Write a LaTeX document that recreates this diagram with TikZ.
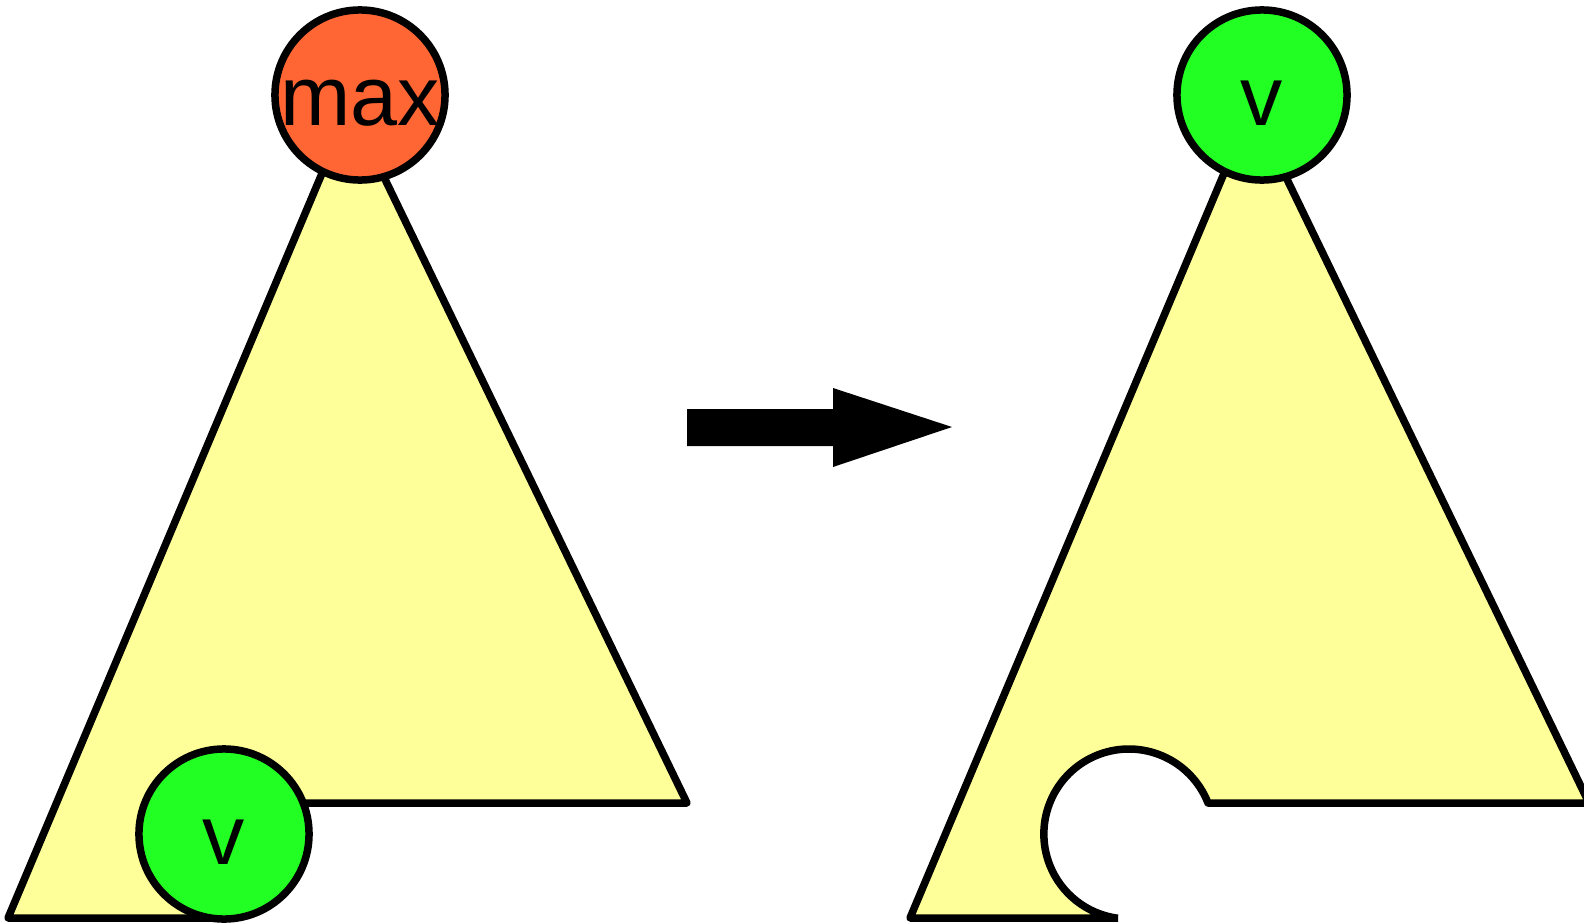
\documentclass[tikz,border=0pt]{standalone}
\usepackage{fontspec}
\setmainfont{Liberation Sans}
\definecolor{treeyellow}{HTML}{FFFF99}
\definecolor{maxred}{HTML}{FF6633}
\definecolor{vgreen}{HTML}{22FF22}
\tikzstyle{treeline}=[
      draw = black,
      line width = 0.075cm,
      line join = round
      ]
\tikzstyle{keynode}=[
      circle,
      draw = black,
      line width = 0.075cm,
      minimum size = 1.7cm,
      inner sep = 0pt,
      text height = 0.6cm,
      text depth = 0pt,
      font = \fontsize{24}{24}\selectfont
      ]
\tikzstyle{maxkey}=[keynode, fill = maxred]
\tikzstyle{vkey}=[keynode, fill = vgreen]

\begin{document}
\begin{tikzpicture}[x=0.01cm,y=0.01cm]
\useasboundingbox (0,0) rectangle (1584,923);
\clip (0,0) rectangle (1584,923);
\coordinate (lapex) at (350,816);
\coordinate (lleft) at (8,5);
\coordinate (lright) at (687,120);
\fill [treeyellow] (lleft) -- (lapex) -- (lright) -- (224,120) -- (224,5) -- cycle;
\draw [treeline] (224,5) -- (lleft) -- (lapex) -- (lright) -- (224,120);
\node [maxkey] (max) at (360,828) {max};
\node [vkey] (vold) at (224,89) {v};

\fill (687,477) -- (687,514) -- (833,514) -- (833,535) -- (952,496)
      -- (833,456) -- (833,477) -- cycle;

\coordinate (rapex) at (1252,816);
\coordinate (rleft) at (910,5);
\coordinate (rright) at (1589,120);
\coordinate (notch) at (1208,120);
\coordinate (notchend) at (1118,5);
\fill [treeyellow] (notchend) -- (rleft) -- (rapex) -- (rright) -- (notch)
      arc [start angle=21.4, end angle=262.5, radius=85] -- cycle;
\draw [treeline] (notchend) -- (rleft) -- (rapex) -- (rright) -- (notch)
      arc [start angle=21.4, end angle=262.5, radius=85];
\node [vkey] (vnew) at (1262,828) {v};
\end{tikzpicture}
\end{document}
